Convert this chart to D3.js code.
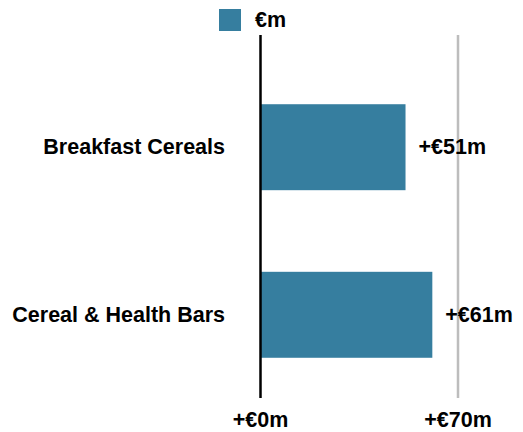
<!DOCTYPE html>
<html>
<head>
<meta charset="utf-8">
<script src="https://cdn.jsdelivr.net/npm/d3@7"></script>
<style>
  body { margin: 0; background: #fff; }
  text { font-family: "Liberation Sans", Arial, Helvetica, sans-serif; font-weight: bold; fill: #000; }
</style>
</head>
<body>
<div id="chart"></div>
<script>
const categories = ['Breakfast Cereals', 'Cereal & Health Bars'];
const values = [51.4, 60.9];
const seriesName = '€m';
const tickValues = [0, 70];

const width = 523, height = 432;
const barColor = '#367e9f';
const fontSize = 21.5;
const fmt = v => `+€${Math.round(v)}m`;

const svg = d3.select('#chart').append('svg')
  .attr('width', width)
  .attr('height', height);

const x = d3.scaleLinear()
  .domain([0, 70])
  .range([260.5, 458]);

const y = d3.scaleBand()
  .domain(categories)
  .range([64, 398])
  .paddingInner(0.487)
  .paddingOuter(0.24);

// legend
const legend = svg.append('g');
legend.append('rect')
  .attr('x', 219).attr('y', 9)
  .attr('width', 22).attr('height', 22)
  .attr('fill', barColor);
legend.append('text')
  .attr('x', 255).attr('y', 20)
  .attr('dominant-baseline', 'central')
  .style('font-size', fontSize + 'px')
  .text(seriesName);

// gridline at 70
svg.append('g')
  .selectAll('line')
  .data(tickValues.filter(d => d !== 0))
  .join('line')
  .attr('x1', d => x(d)).attr('x2', d => x(d))
  .attr('y1', 35).attr('y2', 398)
  .attr('stroke', '#bdbdbd')
  .attr('stroke-width', 2.5);

// bars
svg.append('g')
  .selectAll('rect')
  .data(values)
  .join('rect')
  .attr('x', x(0))
  .attr('y', (d, i) => y(categories[i]))
  .attr('width', d => x(d) - x(0))
  .attr('height', y.bandwidth())
  .attr('fill', barColor);

// zero line
svg.append('line')
  .attr('x1', x(0)).attr('x2', x(0))
  .attr('y1', 35).attr('y2', 398)
  .attr('stroke', '#000')
  .attr('stroke-width', 2.5);

// category labels
svg.append('g')
  .selectAll('text')
  .data(categories)
  .join('text')
  .attr('x', 225)
  .attr('y', d => y(d) + y.bandwidth() / 2)
  .attr('text-anchor', 'end')
  .attr('dominant-baseline', 'central')
  .style('font-size', fontSize + 'px')
  .text(d => d);

// value labels
svg.append('g')
  .selectAll('text')
  .data(values)
  .join('text')
  .attr('x', d => x(d) + 13)
  .attr('y', (d, i) => y(categories[i]) + y.bandwidth() / 2)
  .attr('dominant-baseline', 'central')
  .style('font-size', fontSize + 'px')
  .text(fmt);

// x tick labels
svg.append('g')
  .selectAll('text')
  .data(tickValues)
  .join('text')
  .attr('x', d => x(d))
  .attr('y', 420)
  .attr('text-anchor', 'middle')
  .attr('dominant-baseline', 'central')
  .style('font-size', fontSize + 'px')
  .text(fmt);
</script>
</body>
</html>
